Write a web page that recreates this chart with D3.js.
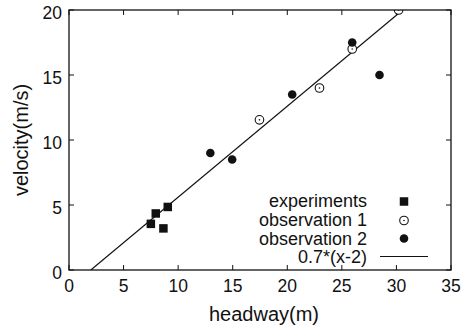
<!DOCTYPE html>
<html><head><meta charset="utf-8">
<script src="https://cdn.jsdelivr.net/npm/d3@7"></script>
<style>body{margin:0;background:#fff}svg{display:block}text{font-family:"Liberation Sans",Arial,Helvetica,sans-serif;fill:#111}</style>
</head><body>
<script>
const experiments = [[7.5,3.55],[7.95,4.35],[9.05,4.85],[8.65,3.2]];
const observation1 = [[17.45,11.55],[22.95,14.0],[25.95,17.0],[30.2,20.0]];
const observation2 = [[12.95,9.0],[14.95,8.5],[20.45,13.5],[25.95,17.5],[28.45,15.0]];
const fitSlope = 0.7, fitOffset = 2;
const xTicks = [0,5,10,15,20,25,30,35];
const yTicks = [0,5,10,15,20];
const legendLabels = ["experiments","observation 1","observation 2","0.7*(x-2)"];

const W=464,H=330;
const m={l:69,r:13,t:10,b:60};
const svg=d3.select("body").append("svg").attr("width",W).attr("height",H);
const x=d3.scaleLinear().domain([0,35]).range([m.l,W-m.r]);
const y=d3.scaleLinear().domain([0,20]).range([H-m.b,m.t]);
const x0=x(0),x1=x(35),y0=y(0),y1=y(20);

svg.append("defs").append("clipPath").attr("id","clip").append("rect")
  .attr("x",x0).attr("y",y1).attr("width",x1-x0).attr("height",y0-y1);

// ticks (inward, mirrored)
const tl=5;
const g=svg.append("g").attr("stroke","#111").attr("stroke-width",1);
xTicks.forEach(t=>{
  g.append("line").attr("x1",x(t)).attr("x2",x(t)).attr("y1",y0).attr("y2",y0-tl);
  g.append("line").attr("x1",x(t)).attr("x2",x(t)).attr("y1",y1).attr("y2",y1+tl);
});
yTicks.forEach(t=>{
  g.append("line").attr("x1",x0).attr("x2",x0+tl).attr("y1",y(t)).attr("y2",y(t));
  g.append("line").attr("x1",x1).attr("x2",x1-tl).attr("y1",y(t)).attr("y2",y(t));
});
svg.selectAll(".xt").data(xTicks).enter().append("text")
  .attr("x",d=>x(d)).attr("y",y0+21.5).attr("text-anchor","middle").attr("font-size",17.5).text(d=>d);
svg.selectAll(".yt").data(yTicks).enter().append("text")
  .attr("x",x0-7).attr("y",d=>y(d)+9).attr("text-anchor","end").attr("font-size",17.5).text(d=>d);

// fit line
const plot=svg.append("g").attr("clip-path","url(#clip)");
const fx=[fitOffset, fitOffset+20/fitSlope];
plot.append("line").attr("x1",x(fx[0])).attr("y1",y(fitSlope*(fx[0]-fitOffset)))
  .attr("x2",x(fx[1])).attr("y2",y(fitSlope*(fx[1]-fitOffset)))
  .attr("stroke","#111").attr("stroke-width",1.2);

// points
const sq=8.5;
function square(gg,cx,cy){gg.append("rect").attr("x",cx-sq/2).attr("y",cy-sq/2).attr("width",sq).attr("height",sq).attr("fill","#111");}
function openCirc(gg,cx,cy){gg.append("circle").attr("cx",cx).attr("cy",cy).attr("r",4.3).attr("fill","#fff").attr("stroke","#111").attr("stroke-width",1.1);
  gg.append("circle").attr("cx",cx).attr("cy",cy).attr("r",0.8).attr("fill","#111");}
function dot(gg,cx,cy){gg.append("circle").attr("cx",cx).attr("cy",cy).attr("r",4.3).attr("fill","#111");}
experiments.forEach(d=>square(plot,x(d[0]),y(d[1])));
observation1.forEach(d=>openCirc(plot,x(d[0]),y(d[1])));
observation2.forEach(d=>dot(plot,x(d[0]),y(d[1])));

// frame
svg.append("rect").attr("x",x0).attr("y",y1).attr("width",x1-x0).attr("height",y0-y1)
  .attr("fill","none").attr("stroke","#111").attr("stroke-width",1.3);

// legend
const lx=367, lsx=404, lb=[207,226,244.5,263];
legendLabels.forEach((t,i)=>{
  svg.append("text").attr("x",lx).attr("y",lb[i]).attr("text-anchor","end").attr("font-size",18).text(t);
});
const lg=svg.append("g");
square(lg,lsx,lb[0]-5.5);
openCirc(lg,lsx,lb[1]-5.5);
dot(lg,lsx,lb[2]-6);
lg.append("line").attr("x1",380).attr("x2",428).attr("y1",lb[3]-6.5).attr("y2",lb[3]-6.5).attr("stroke","#111").attr("stroke-width",1.2);

// axis labels
svg.append("text").attr("x",(x0+x1)/2+4).attr("y",321).attr("text-anchor","middle").attr("font-size",20).text("headway(m)");
svg.append("text").attr("transform",`translate(28,${(y0+y1)/2}) rotate(-90)`).attr("text-anchor","middle").attr("font-size",20).text("velocity(m/s)");
</script>
</body></html>
